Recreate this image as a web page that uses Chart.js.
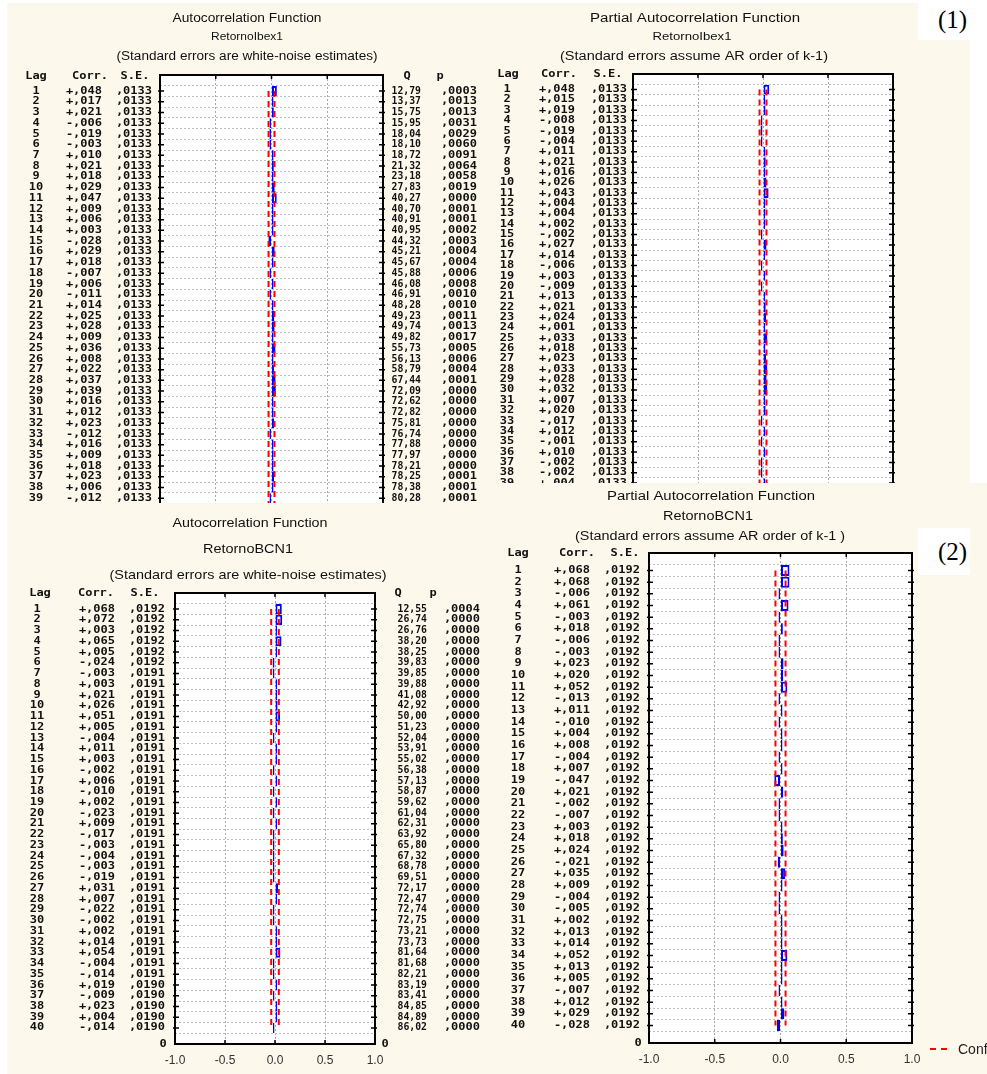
<!DOCTYPE html>
<html>
<head>
<meta charset="utf-8">
<script src="https://cdn.jsdelivr.net/npm/chart.js@4.4.0/dist/chart.umd.min.js"></script>
<style>
  body { margin: 0; width: 987px; height: 1074px; background: #fff; position: relative; overflow: hidden; }
  .cream { position: absolute; background: #fdf8ec; }
  .tag { position: absolute; background: #fff; font-family: "Liberation Serif", "Times New Roman", serif; font-size: 25px; color: #000; }
  .tag span { position: absolute; left: 20px; }
  .panel { position: absolute; overflow: hidden; }
  .panel canvas { position: absolute; left: 0; top: 0; }
</style>
</head>
<body>
<div class="cream" style="left:7px;top:3px;width:963px;height:1071px"></div>
<div class="cream" style="left:900px;top:483px;width:87px;height:591px"></div>
<div class="tag" style="left:918px;top:0;width:52px;height:40px"><span style="top:6px">(1)</span></div>
<div class="tag" style="left:918px;top:528px;width:52px;height:47px"><span style="top:10px">(2)</span></div>

<div class="panel" style="left:10px;top:0;width:478px;height:503px"><canvas id="c1" width="478" height="560"></canvas></div>
<div class="panel" style="left:488px;top:0;width:430px;height:483px"><canvas id="c2" width="430" height="520"></canvas></div>
<div class="panel" style="left:10px;top:505px;width:478px;height:569px"><canvas id="c3" width="478" height="569"></canvas></div>
<div class="panel" style="left:488px;top:483px;width:499px;height:591px"><canvas id="c4" width="499" height="591"></canvas></div>

<script>
const lags = [1, 2, 3, 4, 5, 6, 7, 8, 9, 10, 11, 12, 13, 14, 15, 16, 17, 18, 19, 20,
              21, 22, 23, 24, 25, 26, 27, 28, 29, 30, 31, 32, 33, 34, 35, 36, 37, 38, 39, 40];

// RetornoIbex1 - autocorrelation function
const ibexAcf = [0.048, 0.017, 0.021, -0.006, -0.019, -0.003, 0.010, 0.021, 0.018, 0.029,
                 0.047, 0.009, 0.006, 0.003, -0.028, 0.029, 0.018, -0.007, 0.006, -0.011,
                 0.014, 0.025, 0.028, 0.009, 0.036, 0.008, 0.022, 0.037, 0.039, 0.016,
                 0.012, 0.023, -0.012, 0.016, 0.009, 0.018, 0.023, 0.006, -0.012, -0.008];
const ibexAcfSE = [0.0133, 0.0133, 0.0133, 0.0133, 0.0133, 0.0133, 0.0133, 0.0133, 0.0133, 0.0133,
                   0.0133, 0.0133, 0.0133, 0.0133, 0.0133, 0.0133, 0.0133, 0.0133, 0.0133, 0.0133,
                   0.0133, 0.0133, 0.0133, 0.0133, 0.0133, 0.0133, 0.0133, 0.0133, 0.0133, 0.0133,
                   0.0133, 0.0133, 0.0133, 0.0133, 0.0133, 0.0133, 0.0133, 0.0133, 0.0133, 0.0133];
const ibexQ = [12.79, 13.37, 15.75, 15.95, 18.04, 18.10, 18.72, 21.32, 23.18, 27.83,
               40.27, 40.70, 40.91, 40.95, 44.32, 45.21, 45.67, 45.88, 46.08, 46.91,
               48.28, 49.23, 49.74, 49.82, 55.73, 56.13, 58.79, 67.44, 72.09, 72.62,
               72.82, 75.81, 76.74, 77.88, 77.97, 78.21, 78.25, 78.38, 80.28, 80.64];
const ibexP = [0.0003, 0.0013, 0.0013, 0.0031, 0.0029, 0.0060, 0.0091, 0.0064, 0.0058, 0.0019,
               0.0000, 0.0001, 0.0001, 0.0002, 0.0003, 0.0004, 0.0004, 0.0006, 0.0008, 0.0010,
               0.0010, 0.0011, 0.0013, 0.0017, 0.0005, 0.0006, 0.0004, 0.0001, 0.0000, 0.0000,
               0.0000, 0.0000, 0.0000, 0.0000, 0.0000, 0.0000, 0.0001, 0.0001, 0.0001, 0.0001];

// RetornoIbex1 - partial autocorrelation function
const ibexPacf = [0.048, 0.015, 0.019, -0.008, -0.019, -0.004, 0.011, 0.021, 0.016, 0.026,
                  0.043, 0.004, 0.004, 0.002, -0.002, 0.027, 0.014, -0.006, 0.003, -0.009,
                  0.013, 0.021, 0.024, 0.001, 0.033, 0.018, 0.023, 0.033, 0.028, 0.032,
                  0.007, 0.020, -0.017, 0.012, -0.001, 0.010, -0.002, -0.002, 0.004, -0.006];
const ibexPacfSE = [0.0133, 0.0133, 0.0133, 0.0133, 0.0133, 0.0133, 0.0133, 0.0133, 0.0133, 0.0133,
                    0.0133, 0.0133, 0.0133, 0.0133, 0.0133, 0.0133, 0.0133, 0.0133, 0.0133, 0.0133,
                    0.0133, 0.0133, 0.0133, 0.0133, 0.0133, 0.0133, 0.0133, 0.0133, 0.0133, 0.0133,
                    0.0133, 0.0133, 0.0133, 0.0133, 0.0133, 0.0133, 0.0133, 0.0133, 0.0133, 0.0133];

// RetornoBCN1 - autocorrelation function
const bcnAcf = [0.068, 0.072, 0.003, 0.065, 0.005, -0.024, -0.003, 0.003, 0.021, 0.026,
                0.051, 0.005, -0.004, 0.011, 0.003, -0.002, 0.006, -0.010, 0.002, -0.023,
                0.009, -0.017, -0.003, -0.004, -0.003, -0.019, 0.031, 0.007, -0.022, -0.002,
                0.002, 0.014, 0.054, -0.004, -0.014, 0.019, -0.009, 0.023, 0.004, -0.014];
const bcnAcfSE = [0.0192, 0.0192, 0.0192, 0.0192, 0.0192, 0.0192, 0.0191, 0.0191, 0.0191, 0.0191,
                  0.0191, 0.0191, 0.0191, 0.0191, 0.0191, 0.0191, 0.0191, 0.0191, 0.0191, 0.0191,
                  0.0191, 0.0191, 0.0191, 0.0191, 0.0191, 0.0191, 0.0191, 0.0191, 0.0191, 0.0191,
                  0.0191, 0.0191, 0.0191, 0.0191, 0.0191, 0.0190, 0.0190, 0.0190, 0.0190, 0.0190];
const bcnQ = [12.55, 26.74, 26.76, 38.20, 38.25, 39.83, 39.85, 39.88, 41.08, 42.92,
              50.00, 51.23, 52.04, 53.91, 55.02, 56.38, 57.13, 58.87, 59.62, 61.04,
              62.31, 63.92, 65.80, 67.32, 68.78, 69.51, 72.17, 72.47, 72.74, 72.75,
              73.21, 73.73, 81.64, 81.68, 82.21, 83.19, 83.41, 84.85, 84.89, 86.02];
const bcnP = [0.0004, 0.0000, 0.0000, 0.0000, 0.0000, 0.0000, 0.0000, 0.0000, 0.0000, 0.0000,
              0.0000, 0.0000, 0.0000, 0.0000, 0.0000, 0.0000, 0.0000, 0.0000, 0.0000, 0.0000,
              0.0000, 0.0000, 0.0000, 0.0000, 0.0000, 0.0000, 0.0000, 0.0000, 0.0000, 0.0000,
              0.0000, 0.0000, 0.0000, 0.0000, 0.0000, 0.0000, 0.0000, 0.0000, 0.0000, 0.0000];

// RetornoBCN1 - partial autocorrelation function
const bcnPacf = [0.068, 0.068, -0.006, 0.061, -0.003, 0.018, -0.006, -0.003, 0.023, 0.020,
                 0.052, -0.013, 0.011, -0.010, 0.004, 0.008, -0.004, 0.007, -0.047, 0.021,
                 -0.002, -0.007, 0.003, 0.018, 0.024, -0.021, 0.035, 0.009, -0.004, -0.005,
                 0.002, 0.013, 0.014, 0.052, 0.013, 0.005, -0.007, 0.012, 0.029, -0.028];
const bcnPacfSE = [0.0192, 0.0192, 0.0192, 0.0192, 0.0192, 0.0192, 0.0192, 0.0192, 0.0192, 0.0192,
                   0.0192, 0.0192, 0.0192, 0.0192, 0.0192, 0.0192, 0.0192, 0.0192, 0.0192, 0.0192,
                   0.0192, 0.0192, 0.0192, 0.0192, 0.0192, 0.0192, 0.0192, 0.0192, 0.0192, 0.0192,
                   0.0192, 0.0192, 0.0192, 0.0192, 0.0192, 0.0192, 0.0192, 0.0192, 0.0192, 0.0192];

const xTicks = [-1, -0.5, 0, 0.5, 1];

// statistica-style number strings: +,048  ,0133  12,79  ,0006
const fmtCorr = v => (v < 0 ? '-' : '+') + ',' + String(Math.round(Math.abs(v) * 1000)).padStart(3, '0');
const fmtFrac = v => ',' + String(Math.round(v * 10000)).padStart(4, '0');
const fmtQ = v => v.toFixed(2).replace('.', ',');

const MONO = 'bold 10px "DejaVu Sans Mono"';
const SANS = '"Liberation Sans", Arial, sans-serif';

function fitText(ctx, txt, cx, cy, width, size) {
    ctx.font = size + 'px ' + SANS;
    const w = ctx.measureText(txt).width;
    ctx.save();
    ctx.translate(cx, cy);
    ctx.scale(width / w, 1);
    ctx.textAlign = 'center';
    ctx.textBaseline = 'middle';
    ctx.fillText(txt, 0, 0);
    ctx.restore();
}

function colText(ctx, txt, x, y, align, sx = 1.2) {
    ctx.save();
    ctx.translate(x, y);
    ctx.scale(sx, 1);
    ctx.font = MONO;
    ctx.textAlign = align;
    ctx.textBaseline = 'middle';
    ctx.fillText(txt, 0, 0);
    ctx.restore();
}

// frame, tick marks, titles and the table columns either side of the plot
const acfTable = {
    id: 'acfTable',
    beforeDraw(chart) {
        const a = chart.chartArea, ctx = chart.ctx;
        ctx.save();
        ctx.fillStyle = '#fff';
        ctx.fillRect(a.left, a.top, a.right - a.left, a.bottom - a.top);
        ctx.restore();
    },
    afterDraw(chart, args, o) {
        const ctx = chart.ctx, a = chart.chartArea;
        const ys = chart.scales.y, xs = chart.scales.x;
        const dx = o.ox, dy = o.oy;
        ctx.save();
        ctx.strokeStyle = '#000';
        ctx.lineWidth = 2;
        ctx.strokeRect(a.left, a.top, a.right - a.left, a.bottom - a.top);

        ctx.lineWidth = 1.5;
        ctx.beginPath();
        lags.forEach(l => {
            const y = ys.getPixelForValue(l);
            ctx.moveTo(a.left - 2, y); ctx.lineTo(a.left + 4, y);
            ctx.moveTo(a.right - 4, y); ctx.lineTo(a.right + 2, y);
        });
        xTicks.slice(1, -1).forEach(v => {
            const x = xs.getPixelForValue(v);
            ctx.moveTo(x, a.top - 1); ctx.lineTo(x, a.top + 4);
            ctx.moveTo(x, a.bottom - 4); ctx.lineTo(x, a.bottom + 1);
        });
        ctx.stroke();

        ctx.fillStyle = '#111';
        o.titles.forEach(t => fitText(ctx, t[0], t[1] - dx, t[2] - dy, t[3], t[4]));

        const h = o.head, c = o.col;
        colText(ctx, 'Lag', h.lag - dx, h.y - dy, 'center');
        colText(ctx, 'Corr.', h.corr - dx, h.y - dy, 'center');
        colText(ctx, 'S.E.', h.se - dx, h.y - dy, 'center');
        if (o.q) {
            colText(ctx, 'Q', h.q - dx, h.y - dy, 'center');
            colText(ctx, 'p', h.p - dx, h.y - dy, 'center');
        }
        lags.forEach((l, i) => {
            const y = ys.getPixelForValue(l);
            colText(ctx, String(l), c.lag - dx, y, 'center');
            colText(ctx, fmtCorr(o.corr[i]), c.corr - dx, y, 'right');
            colText(ctx, fmtFrac(o.se[i]), c.se - dx, y, 'right');
            if (o.q) {
                colText(ctx, fmtQ(o.q[i]), c.q - dx, y, 'right', 0.98);
                colText(ctx, fmtFrac(o.p[i]), c.p - dx, y, 'right');
            }
        });
        (o.zeros || []).forEach(x => colText(ctx, '0', x - dx, a.bottom, 'center'));

        if (o.legend) {
            const lx = o.legend.x - dx, ly = o.legend.y - dy;
            ctx.strokeStyle = '#ff0000';
            ctx.lineWidth = 2;
            ctx.setLineDash([6, 5]);
            ctx.beginPath();
            ctx.moveTo(lx, ly); ctx.lineTo(lx + 22, ly);
            ctx.stroke();
            ctx.setLineDash([]);
            ctx.font = '14px ' + SANS;
            ctx.textBaseline = 'middle';
            ctx.textAlign = 'left';
            ctx.fillStyle = '#222';
            ctx.fillText('Conf. Limit', lx + 28, ly + 1);
        }
        ctx.restore();
    }
};

function makePanel(p) {
    const cv = document.getElementById(p.id);
    const axisH = p.axis ? 30 : 0;
    const pad = {
        left: p.plot.l - p.ox,
        top: p.plot.t - p.oy,
        right: p.ox + cv.width - p.plot.r,
        bottom: p.oy + cv.height - p.plot.b - axisH
    };
    const conf = s => lags.map((l, i) => ({ x: s * 2 * p.se[i], y: l }));
    const confLine = s => ({
        type: 'line', indexAxis: 'y', order: 1,
        data: conf(s),
        borderColor: '#ff0000', borderWidth: 2, borderDash: [6, 4],
        pointRadius: 0, fill: false
    });
    return new Chart(cv.getContext('2d'), {
        type: 'bar',
        data: {
            datasets: [
                {
                    order: 2,
                    data: lags.map((l, i) => ({ x: p.corr[i], y: l })),
                    borderColor: '#0000ff',
                    backgroundColor: '#ffffff',
                    borderWidth: 2,
                    borderSkipped: false,
                    minBarLength: 2,
                    barPercentage: 0.94,
                    categoryPercentage: 1
                },
                confLine(-1),
                confLine(1)
            ]
        },
        options: {
            indexAxis: 'y',
            responsive: false,
            animation: false,
            devicePixelRatio: 1,
            events: [],
            layout: { padding: pad },
            scales: {
                x: {
                    type: 'linear', position: 'bottom', min: -1, max: 1,
                    afterFit: s => { s.height = axisH; },
                    afterBuildTicks: s => { s.ticks = xTicks.map(v => ({ value: v })); },
                    grid: { color: '#a8a8a8', lineWidth: 1, drawTicks: false },
                    border: { display: false, dash: [2, 2] },
                    ticks: {
                        display: p.axis, padding: 9, color: '#333',
                        font: { family: SANS, size: 12 },
                        callback: v => v.toFixed(1)
                    }
                },
                y: {
                    type: 'linear', min: 0, max: 41, reverse: true,
                    afterFit: s => { s.width = 0; },
                    grid: { color: '#bdbdbd', lineWidth: 1, drawTicks: false },
                    border: { display: false, dash: [2, 2] },
                    ticks: { display: false, stepSize: 1 }
                }
            },
            plugins: {
                legend: { display: false },
                tooltip: { enabled: false },
                acfTable: {
                    ox: p.ox, oy: p.oy, corr: p.corr, se: p.se, q: p.q, p: p.p,
                    titles: p.titles, head: p.head, col: p.col,
                    zeros: p.zeros, legend: p.legend
                }
            }
        },
        plugins: [acfTable]
    });
}

makePanel({
    id: 'c1', ox: 10, oy: 0, axis: false,
    plot: { l: 160, r: 383, t: 75, b: 525 },
    corr: ibexAcf, se: ibexAcfSE, q: ibexQ, p: ibexP,
    titles: [['Autocorrelation Function', 247, 19, 149, 12],
             ['RetornoIbex1', 247, 37, 72, 11],
             ['(Standard errors are white-noise estimates)', 247, 57, 261, 12]],
    head: { y: 76, lag: 36, corr: 90, se: 135, q: 407, p: 440 },
    col: { lag: 36, corr: 102, se: 152, q: 421, p: 477 }
});

makePanel({
    id: 'c2', ox: 488, oy: 0, axis: false,
    plot: { l: 633, r: 893, t: 74, b: 509 },
    corr: ibexPacf, se: ibexPacfSE,
    titles: [['Partial Autocorrelation Function', 695, 19, 210, 12],
             ['RetornoIbex1', 692, 37, 79, 11],
             ['(Standard errors assume AR order of k-1)', 694, 57, 268, 12]],
    head: { y: 74, lag: 508, corr: 559, se: 608 },
    col: { lag: 507, corr: 575, se: 627 }
});

makePanel({
    id: 'c3', ox: 10, oy: 505, axis: true,
    plot: { l: 175, r: 375, t: 593, b: 1044 },
    corr: bcnAcf, se: bcnAcfSE, q: bcnQ, p: bcnP,
    titles: [['Autocorrelation Function', 250, 523, 155, 13],
             ['RetornoBCN1', 248, 549, 90, 13],
             ['(Standard errors are white-noise estimates)', 248, 575, 277, 13]],
    head: { y: 593, lag: 40, corr: 96, se: 145, q: 398, p: 433 },
    col: { lag: 37, corr: 115, se: 165, q: 427, p: 480 },
    zeros: [163, 385]
});

makePanel({
    id: 'c4', ox: 488, oy: 483, axis: true,
    plot: { l: 649, r: 912, t: 553, b: 1043 },
    corr: bcnPacf, se: bcnPacfSE,
    titles: [['Partial Autocorrelation Function', 711, 497, 208, 12],
             ['RetornoBCN1', 708, 517, 90, 12],
             ['(Standard errors assume AR order of k-1 )', 710, 537, 270, 12]],
    head: { y: 553, lag: 518, corr: 577, se: 625 },
    col: { lag: 518, corr: 590, se: 640 },
    zeros: [638],
    legend: { x: 930, y: 1049 }
});
</script>
</body>
</html>
